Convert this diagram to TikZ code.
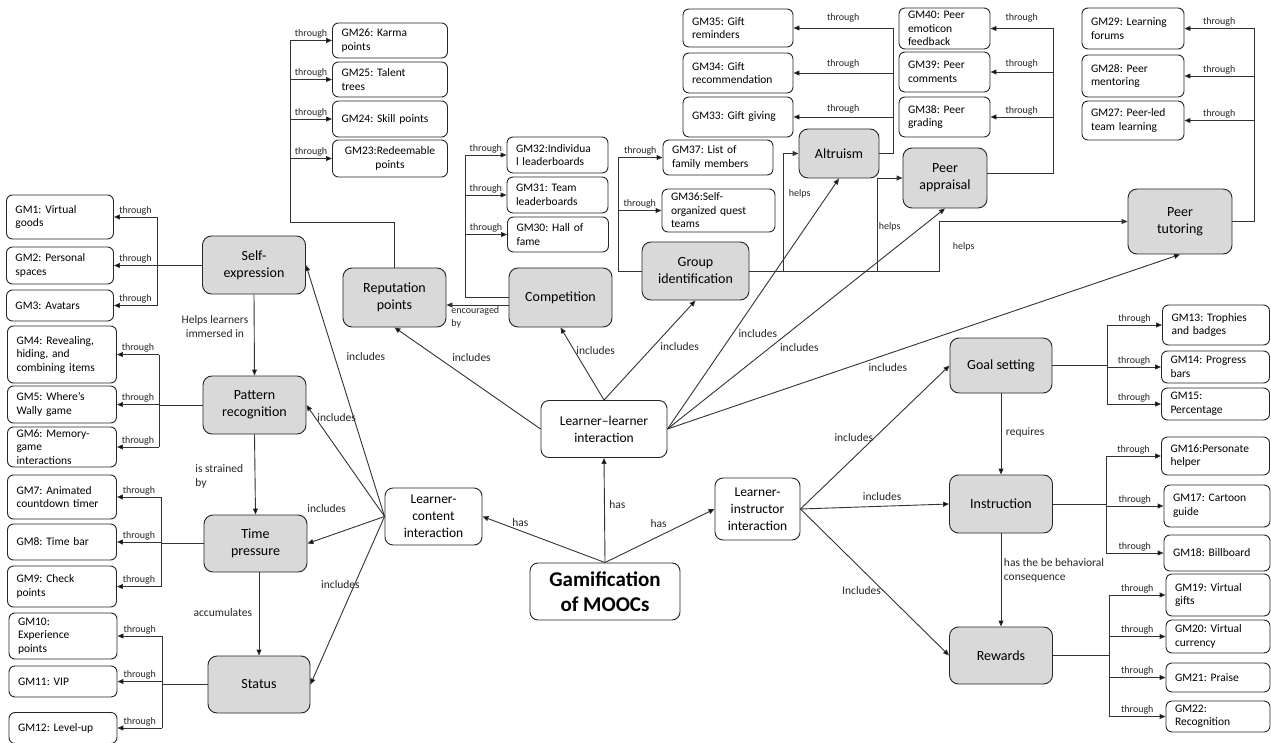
\documentclass[tikz,border=0pt]{standalone}
\usepackage{fontspec}
\setmainfont{Carlito}
\usetikzlibrary{arrows.meta}
\frenchspacing

\begin{document}
\begin{tikzpicture}[x=1pt, y=-1pt,
    >={Triangle[length=6pt,width=5pt]},
    conn/.style={draw=black!80, line width=0.9pt},
    arr/.style={conn, ->},
    gmbox/.style={draw=black!85, line width=0.9pt, rounded corners=6pt, fill=white, align=left,
        inner xsep=9pt, inner ysep=1pt, font=\fontsize{11.5}{13.5}\selectfont},
    cat/.style={draw=black!85, line width=0.9pt, rounded corners=9pt, fill=black!15, align=center,
        minimum width=103pt, minimum height=58pt, font=\fontsize{14}{17}\selectfont},
    hub/.style={draw=black!85, line width=0.9pt, rounded corners=8pt, fill=white, align=center,
        inner sep=1pt, font=\fontsize{13.5}{17}\selectfont},
    lbl/.style={font=\fontsize{11.5}{14}\selectfont, text=black!85, inner sep=1.5pt},
    sm/.style={font=\fontsize{10}{13}\selectfont, text=black!85, inner sep=1.5pt},
    thr/.style={sm, above}]

\path[use as bounding box, fill=white] (0,0) rectangle (1271,743);

% categories
\node[cat] (se) at (254,265) {Self-\\expression};
\node[cat] (pr) at (254.5,405) {Pattern\\recognition};
\node[cat, minimum height=57pt] (tp) at (255.5,543.5) {Time\\pressure};
\node[cat, minimum width=102pt, minimum height=57pt] (st) at (259,684.5) {Status};
\node[cat, minimum height=59pt] (rp) at (394.5,297.5) {Reputation\\points};
\node[cat, minimum height=59pt] (co) at (560.5,297.5) {Competition};
\node[cat, minimum width=107pt] (gi) at (695.5,271) {Group\\identification};
\node[cat, minimum width=80pt, minimum height=49pt] (al) at (839,153.5) {Altruism};
\node[cat, minimum width=84pt, minimum height=60pt] (pa) at (945,178) {Peer\\appraisal};
\node[cat, minimum width=104pt, minimum height=65pt] (pt) at (1180,221.5) {Peer\\tutoring};
\node[cat, minimum width=102pt, minimum height=55pt] (gs) at (1001,365.5) {Goal setting};
\node[cat] (ins) at (1001,504) {Instruction};
\node[cat, minimum height=57pt] (rw) at (1001,655.5) {Rewards};

% interactions
\node[hub, minimum width=97pt, minimum height=57pt] (lc) at (433.5,516.5) {Learner-\\content\\interaction};
\node[hub, minimum width=126pt, minimum height=57pt] (ll) at (604,429) {Learner–learner\\interaction};
\node[hub, minimum width=85pt, minimum height=62pt] (li) at (757.5,509) {Learner-\\instructor\\interaction};
\node[hub, minimum width=150pt, minimum height=57pt, font=\bfseries\fontsize{21}{25}\selectfont] (mooc) at (605,591.5) {Gamification\\of MOOCs};

% game mechanics, left
\node[gmbox, text width=89pt, minimum height=44pt] (g1) at (60,217) {GM1: Virtual\\goods};
\node[gmbox, text width=89pt, minimum height=37pt] (g2) at (60,265.5) {GM2: Personal\\spaces};
\node[gmbox, text width=89pt, minimum height=31pt] (g3) at (60,305.5) {GM3: Avatars};
\node[gmbox, text width=91pt, minimum height=57pt] (g4) at (62,354.5) {GM4: Revealing,\\hiding, and\\combining items};
\node[gmbox, text width=91pt, minimum height=37pt] (g5) at (62,404.5) {GM5: Where's\\Wally game};
\node[gmbox, text width=91pt, minimum height=40pt] (g6) at (62,447) {GM6: Memory-\\game\\interactions};
\node[gmbox, text width=91pt, minimum height=44pt] (g7) at (62,497) {GM7: Animated\\countdown timer};
\node[gmbox, text width=91pt, minimum height=36pt] (g8) at (62,542) {GM8: Time bar};
\node[gmbox, text width=91pt, minimum height=41pt] (g9) at (62,586.5) {GM9: Check\\points};
\node[gmbox, text width=90pt, minimum height=46pt] (g10) at (63,636) {GM10:\\Experience\\points};
\node[gmbox, text width=90pt, minimum height=31pt] (g11) at (63,681.5) {GM11: VIP};
\node[gmbox, text width=90pt, minimum height=31pt] (g12) at (63,728) {GM12: Level-up};

% game mechanics, right
\node[gmbox, text width=89pt, minimum height=40pt] (g13) at (1216,325) {GM13: Trophies\\and badges};
\node[gmbox, text width=90pt, minimum height=32pt] (g14) at (1215.5,367) {GM14: Progress\\bars};
\node[gmbox, text width=90pt, minimum height=32pt] (g15) at (1215.5,404) {GM15:\\Percentage};
\node[gmbox, text width=90pt, minimum height=38pt] (g16) at (1215.5,456) {GM16:Personate\\helper};
\node[gmbox, text width=88pt, minimum height=42pt] (g17) at (1217,506) {GM17: Cartoon\\guide};
\node[gmbox, text width=88pt, minimum height=36pt] (g18) at (1217,553) {GM18: Billboard};
\node[gmbox, text width=86pt, minimum height=42pt] (g19) at (1218,595) {GM19: Virtual\\gifts};
\node[gmbox, text width=86pt, minimum height=33pt] (g20) at (1218,636.5) {GM20: Virtual\\currency};
\node[gmbox, text width=86pt, minimum height=29pt] (g21) at (1218,677.5) {GM21: Praise};
\node[gmbox, text width=86pt, minimum height=31pt] (g22) at (1218,716.5) {GM22:\\Recognition};

% game mechanics, top
\node[gmbox, text width=97pt, minimum height=37pt, align=center] (g23) at (390,158.5) {GM23:Redeemable\\points};
\node[gmbox, text width=97pt, minimum height=36pt] (g24) at (390,119) {GM24: Skill points};
\node[gmbox, text width=97pt, minimum height=35pt] (g25) at (390,79.5) {GM25: Talent\\trees};
\node[gmbox, text width=97pt, minimum height=35pt] (g26) at (390,40.5) {GM26: Karma\\points};
\node[gmbox, text width=84pt, minimum height=39pt] (g27) at (1133,120.5) {GM27: Peer-led\\team learning};
\node[gmbox, text width=84pt, minimum height=42pt] (g28) at (1133,76) {GM28: Peer\\mentoring};
\node[gmbox, text width=84pt, minimum height=41pt] (g29) at (1133,28.5) {GM29: Learning\\forums};
\node[gmbox, text width=83pt, minimum height=35pt] (g30) at (558,234.5) {GM30: Hall of\\fame};
\node[gmbox, text width=83pt, minimum height=36pt] (g31) at (557.5,195) {GM31: Team\\leaderboards};
\node[gmbox, text width=83pt, minimum height=36pt] (g32) at (557.5,155) {GM32:Individua\\l leaderboards};
\node[gmbox, text width=92pt, minimum height=40pt] (g33) at (738,117) {GM33: Gift giving};
\node[gmbox, text width=92pt, minimum height=40pt] (g34) at (738,73) {GM34: Gift\\recommendation};
\node[gmbox, text width=92pt, minimum height=38pt] (g35) at (738,28) {GM35: Gift\\reminders};
\node[gmbox, text width=95pt, minimum height=43pt] (g36) at (718.5,210.5) {GM36:Self-\\organized quest\\teams};
\node[gmbox, text width=92pt, minimum height=35pt] (g37) at (718,157.5) {GM37: List of\\family members};
\node[gmbox, text width=73pt, minimum height=40pt] (g38) at (944.5,117) {GM38: Peer\\grading};
\node[gmbox, text width=73pt, minimum height=40pt] (g39) at (944.5,72) {GM39: Peer\\comments};
\node[gmbox, text width=73pt, minimum height=41pt] (g40) at (944.5,28.5) {GM40: Peer\\emoticon\\feedback};

% trunk positions
\coordinate (kse) at (157,0);
\coordinate (kpr) at (159,0);
\coordinate (ktp) at (161,0);
\coordinate (kst) at (162,0);
\coordinate (krp) at (290,222);
\coordinate (kco) at (465,0);
\coordinate (kgi) at (618,0);
\coordinate (kal) at (893,0);
\coordinate (kpa) at (1053,0);
\coordinate (kpt) at (1254,0);
\coordinate (kgs) at (1107,0);
\coordinate (kin) at (1106,0);
\coordinate (krw) at (1109,0);
\coordinate (ha) at (783,0);
\coordinate (hb) at (877,0);
\coordinate (hc) at (939,0);
\coordinate (pax) at ([yshift=5pt]pa.east);

% the "through" brackets
\draw[conn] (se.west) -- (kse |- se.west) (kse |- g1.east) -- (kse |- g3.east);
\draw[conn] (kse |- g1.east) edge[->] node[thr] {through} (g1.east)
            (kse |- g2.east) edge[->] node[thr] {through} (g2.east)
            (kse |- g3.east) edge[->] node[thr] {through} (g3.east);
\draw[conn] (pr.west) -- (kpr |- pr.west) (kpr |- g4.east) -- (kpr |- g6.east);
\draw[conn] (kpr |- g4.east) edge[->] node[thr] {through} (g4.east)
            (kpr |- g5.east) edge[->] node[thr] {through} (g5.east)
            (kpr |- g6.east) edge[->] node[thr] {through} (g6.east);
\draw[conn] (tp.west) -- (ktp |- tp.west) (ktp |- g7.east) -- (ktp |- g9.east);
\draw[conn] (ktp |- g7.east) edge[->] node[thr] {through} (g7.east)
            (ktp |- g8.east) edge[->] node[thr] {through} (g8.east)
            (ktp |- g9.east) edge[->] node[thr] {through} (g9.east);
\draw[conn] (st.west) -- (kst |- st.west) (kst |- g10.east) -- (kst |- g12.east);
\draw[conn] (kst |- g10.east) edge[->] node[thr] {through} (g10.east)
            (kst |- g11.east) edge[->] node[thr] {through} (g11.east)
            (kst |- g12.east) edge[->] node[thr] {through} (g12.east);

\draw[conn] (gs.east) -- (kgs |- gs.east) (kgs |- g13.west) -- (kgs |- g15.west);
\draw[conn] (kgs |- g13.west) edge[->] node[thr] {through} (g13.west)
            (kgs |- g14.west) edge[->] node[thr] {through} (g14.west)
            (kgs |- g15.west) edge[->] node[thr] {through} (g15.west);
\draw[conn] (ins.east) -- (kin |- ins.east) (kin |- g16.west) -- (kin |- g18.west);
\draw[conn] (kin |- g16.west) edge[->] node[thr] {through} (g16.west)
            (kin |- g17.west) edge[->] node[thr] {through} (g17.west)
            (kin |- g18.west) edge[->] node[thr] {through} (g18.west);
\draw[conn] (rw.east) -- (krw |- rw.east) (krw |- g19.west) -- (krw |- g22.west);
\draw[conn] (krw |- g19.west) edge[->] node[thr] {through} (g19.west)
            (krw |- g20.west) edge[->] node[thr] {through} (g20.west)
            (krw |- g21.west) edge[->] node[thr] {through} (g21.west)
            (krw |- g22.west) edge[->] node[thr] {through} (g22.west);

\draw[conn] (rp.north) |- (krp) -- (krp |- g26.west);
\draw[conn] (krp |- g26.west) edge[->] node[thr] {through} (g26.west)
            (krp |- g25.west) edge[->] node[thr] {through} (g25.west)
            (krp |- g24.west) edge[->] node[thr] {through} (g24.west)
            (krp |- g23.west) edge[->] node[thr] {through} (g23.west);
\draw[conn] (co.west) -- (kco |- co.west) -- (kco |- g32.west);
\draw[conn] (kco |- g32.west) edge[->] node[thr] {through} (g32.west)
            (kco |- g31.west) edge[->] node[thr] {through} (g31.west)
            (kco |- g30.west) edge[->] node[thr] {through} (g30.west);
\draw[arr] ([yshift=-7.5pt]co.west) -- ([yshift=-7.5pt]rp.east)
    node[sm, pos=1, anchor=north west, align=left, xshift=3pt] {encouraged\\by};
\draw[conn] (gi.west) -- (kgi |- gi.west) -- (kgi |- g37.west);
\draw[conn] (kgi |- g37.west) edge[->] node[thr] {through} (g37.west)
            (kgi |- g36.west) edge[->] node[thr] {through} (g36.west);
\draw[conn] (al.east) -- (kal |- al.east) -- (kal |- g35.east);
\draw[conn] (kal |- g35.east) edge[->] node[thr, above=4pt] {through} (g35.east)
            (kal |- g34.east) edge[->] node[thr, above=3pt] {through} (g34.east)
            (kal |- g33.east) edge[->] node[thr, above=2pt] {through} (g33.east);
\draw[conn] (pax) -- (kpa |- pax) -- (kpa |- g40.east);
\draw[conn] (kpa |- g40.east) edge[->] node[thr, above=4pt] {through} (g40.east)
            (kpa |- g39.east) edge[->] node[thr, above=2pt] {through} (g39.east)
            (kpa |- g38.east) edge[->] node[thr] {through} (g38.east);
\draw[conn] (pt.east) -- (kpt |- pt.east) -- (kpt |- g29.east);
\draw[conn] (kpt |- g29.east) edge[->] node[thr] {through} (g29.east)
            (kpt |- g28.east) edge[->] node[thr] {through} (g28.east)
            (kpt |- g27.east) edge[->] node[thr] {through} (g27.east);

% helps
\draw[arr] (gi.east) -- (hc |- gi.east) |- node[sm, pos=0.245, right=12pt] {helps} (pt.west);
\draw[arr] (ha |- gi.east) |- node[sm, pos=0.33, right=4pt] {helps} (al.west);
\draw[arr] (hb |- gi.east) |- node[sm, pos=0.237, right=0pt] {helps} (pa.west);

% category chains
\draw[conn] (se.south) edge[->] node[lbl, pos=0.4, left=4pt, align=center] {Helps learners\\immersed in} (pr.north)
            (pr.south) edge[->] node[lbl, pos=0.52, left=10pt, align=left] {is strained\\by} (tp.north)
            (st.north |- tp.south) edge[->] node[lbl, pos=0.48, left=5pt] {accumulates} (st.north)
            (gs.south) edge[->] node[lbl, pos=0.48, right=3pt] {requires} (ins.north)
            (ins.south) edge[->] node[lbl, pos=0.4, right=1pt, align=left] {has the be behavioral\\consequence} (rw.north);

% includes / has
\draw[conn] (lc.west) edge[->] node[lbl, pos=0.635, right=10pt] {includes} (se.east)
            (lc.west) edge[->] node[lbl, pos=0.884, right] {includes} (pr.east)
            (lc.west) edge[->] node[lbl, pos=0.75, above=22pt] {includes} (tp.east)
            (lc.west) edge[->] node[lbl, pos=0.406, xshift=-14pt] {includes} (st.east);
\draw[conn] (ll.west) edge[->] node[lbl, pos=0.7, right=12pt] {includes} (rp.south)
            (ll.north) edge[->] node[lbl, pos=0.68, right] {includes} (co.south)
            (ll.north) edge[->] node[lbl, pos=0.54, right=5pt] {includes} (gi.south)
            (ll.east) edge[->] node[lbl, pos=0.38, right=4pt] {includes} (al.south)
            (ll.east) edge[->] node[lbl, pos=0.37, right=8pt] {includes} (pa.south)
            (ll.east) edge[->] node[lbl, pos=0.43, below=8pt] {includes} (pt.south);
\draw[conn] (mooc.north) edge[->] node[lbl, pos=0.69, above=2pt] {has} (lc.east)
            (mooc.north) edge[->] node[lbl, pos=0.55, right=3pt] {has} (ll.south)
            (mooc.north) edge[->] node[lbl, pos=0.49, above=7pt] {has} (li.west);
\draw[conn] (li.east) edge[->] node[lbl, pos=0.5, left] {includes} (gs.west)
            (li.east) edge[->] node[lbl, pos=0.55, above=4pt] {includes} (ins.west)
            (li.east) edge[->] node[lbl, pos=0.555, left] {Includes} (rw.west);
\end{tikzpicture}
\end{document}
